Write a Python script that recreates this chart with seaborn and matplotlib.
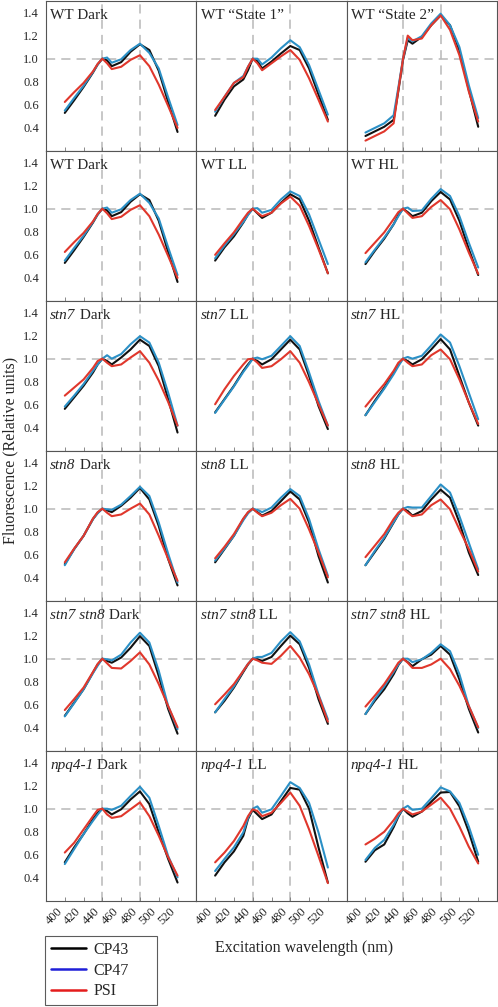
import matplotlib
matplotlib.use("Agg")
import matplotlib.pyplot as plt
from matplotlib.lines import Line2D
import pandas as pd
import seaborn as sns

# excitation wavelengths (nm) sampled for every spectrum
wavelength = [400, 410, 420, 430, 435, 440, 445, 450, 460, 470, 480, 490, 500, 510, 520]

# panels in row-major order (6 rows x 3 columns)
genotypes = ["WT", "WT", "WT",
             "WT", "WT", "WT",
             "stn7", "stn7", "stn7",
             "stn8", "stn8", "stn8",
             "stn7 stn8", "stn7 stn8", "stn7 stn8",
             "npq4-1", "npq4-1", "npq4-1"]
conditions = ["Dark", "\u201cState 1\u201d", "\u201cState 2\u201d",
              "Dark", "LL", "HL",
              "Dark", "LL", "HL",
              "Dark", "LL", "HL",
              "Dark", "LL", "HL",
              "Dark", "LL", "HL"]

cp43 = [
    [0.53, 0.64, 0.755, 0.88, 0.95, 1.0, 0.985, 0.935, 0.97, 1.06, 1.125, 1.075, 0.895, 0.625, 0.365],
    [0.505, 0.645, 0.76, 0.82, 0.90, 1.0, 0.98, 0.915, 0.975, 1.045, 1.11, 1.075, 0.915, 0.69, 0.47],
    [0.33, 0.37, 0.41, 0.47, 0.72, 0.99, 1.16, 1.13, 1.19, 1.29, 1.375, 1.29, 1.07, 0.73, 0.41],
    [0.53, 0.64, 0.755, 0.88, 0.95, 1.0, 0.985, 0.935, 0.97, 1.06, 1.125, 1.075, 0.895, 0.625, 0.365],
    [0.55, 0.665, 0.76, 0.88, 0.95, 1.0, 0.96, 0.92, 0.965, 1.05, 1.125, 1.08, 0.895, 0.665, 0.44],
    [0.52, 0.635, 0.74, 0.865, 0.945, 1.0, 0.97, 0.935, 0.965, 1.065, 1.145, 1.08, 0.895, 0.65, 0.425],
    [0.565, 0.665, 0.765, 0.88, 0.95, 1.0, 0.98, 0.95, 1.01, 1.08, 1.165, 1.11, 0.935, 0.65, 0.36],
    [0.535, 0.65, 0.765, 0.895, 0.95, 1.0, 0.98, 0.95, 0.995, 1.08, 1.165, 1.08, 0.85, 0.59, 0.39],
    [0.51, 0.635, 0.75, 0.88, 0.95, 1.0, 0.98, 0.95, 0.995, 1.08, 1.17, 1.08, 0.85, 0.62, 0.42],
    [0.52, 0.65, 0.765, 0.91, 0.965, 1.0, 0.985, 0.97, 1.025, 1.095, 1.18, 1.08, 0.85, 0.565, 0.335],
    [0.535, 0.65, 0.765, 0.91, 0.965, 1.0, 0.97, 0.94, 0.98, 1.065, 1.15, 1.08, 0.88, 0.59, 0.36],
    [0.51, 0.625, 0.74, 0.88, 0.95, 1.0, 0.98, 0.94, 0.98, 1.08, 1.165, 1.095, 0.88, 0.62, 0.425],
    [0.505, 0.62, 0.735, 0.88, 0.95, 1.0, 0.98, 0.965, 1.01, 1.095, 1.195, 1.11, 0.85, 0.565, 0.35],
    [0.535, 0.635, 0.75, 0.885, 0.95, 1.0, 0.995, 0.98, 1.015, 1.11, 1.20, 1.125, 0.92, 0.65, 0.435],
    [0.52, 0.635, 0.735, 0.865, 0.945, 1.0, 0.97, 0.935, 0.995, 1.035, 1.11, 1.035, 0.82, 0.565, 0.36],
    [0.535, 0.665, 0.78, 0.91, 0.965, 1.0, 0.98, 0.95, 0.995, 1.08, 1.15, 1.04, 0.795, 0.565, 0.36],
    [0.42, 0.535, 0.63, 0.765, 0.91, 0.99, 0.95, 0.91, 0.95, 1.065, 1.18, 1.165, 1.0, 0.665, 0.36],
    [0.54, 0.64, 0.69, 0.84, 0.93, 1.0, 0.96, 0.93, 0.975, 1.06, 1.14, 1.145, 1.02, 0.80, 0.54],
]

cp47 = [
    [0.55, 0.66, 0.765, 0.885, 0.95, 1.0, 1.01, 0.965, 0.995, 1.075, 1.13, 1.05, 0.915, 0.665, 0.425],
    [0.54, 0.67, 0.79, 0.85, 0.93, 1.0, 1.0, 0.95, 1.01, 1.09, 1.16, 1.10, 0.945, 0.73, 0.515],
    [0.36, 0.40, 0.44, 0.51, 0.75, 1.0, 1.18, 1.15, 1.195, 1.305, 1.39, 1.29, 1.10, 0.77, 0.485],
    [0.55, 0.66, 0.765, 0.885, 0.95, 1.0, 1.01, 0.965, 0.995, 1.075, 1.13, 1.05, 0.915, 0.665, 0.425],
    [0.57, 0.68, 0.78, 0.885, 0.945, 1.0, 1.005, 0.965, 0.99, 1.08, 1.15, 1.11, 0.95, 0.735, 0.52],
    [0.535, 0.645, 0.75, 0.865, 0.935, 1.0, 1.01, 0.98, 0.985, 1.085, 1.17, 1.11, 0.935, 0.705, 0.49],
    [0.585, 0.68, 0.78, 0.895, 0.95, 1.0, 1.03, 1.0, 1.04, 1.125, 1.195, 1.14, 0.965, 0.705, 0.42],
    [0.53, 0.645, 0.76, 0.885, 0.94, 1.0, 1.01, 0.995, 1.025, 1.11, 1.195, 1.11, 0.88, 0.635, 0.42],
    [0.51, 0.625, 0.74, 0.865, 0.935, 1.0, 1.015, 1.0, 1.025, 1.115, 1.21, 1.14, 0.935, 0.705, 0.475],
    [0.51, 0.65, 0.765, 0.91, 0.96, 1.0, 0.995, 0.99, 1.035, 1.11, 1.19, 1.11, 0.88, 0.61, 0.36],
    [0.55, 0.655, 0.765, 0.90, 0.96, 1.0, 0.99, 0.97, 1.01, 1.095, 1.17, 1.11, 0.91, 0.65, 0.42],
    [0.51, 0.635, 0.75, 0.885, 0.95, 1.0, 1.015, 1.01, 1.01, 1.11, 1.21, 1.14, 0.935, 0.705, 0.475],
    [0.50, 0.615, 0.735, 0.875, 0.94, 1.0, 0.995, 0.985, 1.035, 1.14, 1.225, 1.14, 0.895, 0.59, 0.39],
    [0.535, 0.65, 0.76, 0.895, 0.955, 1.0, 1.015, 1.015, 1.05, 1.15, 1.23, 1.15, 0.95, 0.69, 0.475],
    [0.52, 0.65, 0.76, 0.885, 0.95, 1.0, 1.0, 0.97, 0.995, 1.05, 1.125, 1.065, 0.865, 0.59, 0.40],
    [0.52, 0.65, 0.78, 0.895, 0.95, 1.0, 1.0, 0.99, 1.025, 1.11, 1.19, 1.095, 0.85, 0.59, 0.405],
    [0.46, 0.565, 0.665, 0.795, 0.92, 1.0, 1.02, 0.965, 0.995, 1.11, 1.23, 1.18, 1.05, 0.795, 0.49],
    [0.555, 0.66, 0.73, 0.86, 0.94, 1.0, 1.025, 0.99, 1.0, 1.09, 1.185, 1.15, 1.05, 0.845, 0.60],
]

psi = [
    [0.625, 0.71, 0.79, 0.89, 0.955, 1.0, 0.96, 0.91, 0.93, 0.99, 1.03, 0.935, 0.775, 0.59, 0.40],
    [0.555, 0.67, 0.79, 0.84, 0.93, 1.0, 0.96, 0.90, 0.96, 1.02, 1.075, 0.99, 0.83, 0.645, 0.455],
    [0.29, 0.33, 0.37, 0.44, 0.73, 1.0, 1.20, 1.16, 1.175, 1.29, 1.375, 1.25, 1.03, 0.715, 0.455],
    [0.625, 0.71, 0.79, 0.89, 0.955, 1.0, 0.96, 0.91, 0.93, 0.99, 1.03, 0.935, 0.775, 0.59, 0.40],
    [0.60, 0.70, 0.795, 0.91, 0.965, 1.0, 0.965, 0.935, 0.965, 1.045, 1.105, 1.025, 0.85, 0.65, 0.44],
    [0.615, 0.705, 0.795, 0.91, 0.97, 1.0, 0.96, 0.92, 0.935, 1.015, 1.075, 0.995, 0.82, 0.62, 0.435],
    [0.68, 0.75, 0.82, 0.92, 0.98, 1.0, 0.965, 0.935, 0.95, 1.01, 1.065, 0.965, 0.81, 0.625, 0.42],
    [0.605, 0.735, 0.85, 0.95, 0.995, 1.0, 0.965, 0.92, 0.935, 0.995, 1.065, 0.965, 0.795, 0.605, 0.42],
    [0.585, 0.685, 0.78, 0.895, 0.965, 1.0, 0.965, 0.935, 0.95, 1.03, 1.08, 0.995, 0.82, 0.62, 0.435],
    [0.535, 0.655, 0.765, 0.915, 0.97, 1.0, 0.965, 0.935, 0.95, 1.0, 1.045, 0.95, 0.765, 0.565, 0.375],
    [0.57, 0.67, 0.78, 0.915, 0.97, 1.0, 0.965, 0.935, 0.965, 1.03, 1.085, 1.0, 0.82, 0.62, 0.405],
    [0.58, 0.68, 0.78, 0.91, 0.965, 1.0, 0.965, 0.935, 0.95, 1.03, 1.08, 0.995, 0.82, 0.65, 0.455],
    [0.555, 0.65, 0.75, 0.885, 0.955, 1.0, 0.96, 0.92, 0.915, 0.98, 1.055, 0.95, 0.78, 0.59, 0.405],
    [0.605, 0.69, 0.78, 0.895, 0.955, 1.0, 0.985, 0.965, 0.955, 1.025, 1.11, 1.01, 0.865, 0.68, 0.455],
    [0.585, 0.68, 0.78, 0.90, 0.965, 1.0, 0.965, 0.92, 0.92, 0.95, 1.0, 0.91, 0.765, 0.59, 0.405],
    [0.62, 0.705, 0.82, 0.935, 0.99, 1.0, 0.95, 0.92, 0.935, 0.995, 1.055, 0.935, 0.765, 0.58, 0.42],
    [0.535, 0.62, 0.72, 0.85, 0.935, 0.995, 0.98, 0.935, 0.965, 1.05, 1.14, 1.025, 0.82, 0.59, 0.355],
    [0.69, 0.74, 0.80, 0.90, 0.96, 1.0, 0.975, 0.95, 0.975, 1.035, 1.095, 1.0, 0.845, 0.67, 0.525],
]

complex_names = ["CP43", "CP47", "PSI"]
line_colors = {"CP43": "#111111", "CP47": "#2b90c6", "PSI": "#e0372c"}
legend_colors = ["#000000", "#1f1fd8", "#e41c1c"]

rows = []
for i in range(len(genotypes)):
    for name, series in zip(complex_names, (cp43, cp47, psi)):
        for wl, val in zip(wavelength, series[i]):
            rows.append({"panel": i, "complex": name, "wavelength": wl, "fluorescence": val})
df = pd.DataFrame(rows)

sns.set_theme(style="white")
plt.rcParams["font.family"] = ["Liberation Serif", "DejaVu Serif"]

W, H = 498, 1007
fig, axes = plt.subplots(6, 3, figsize=(W / 100, H / 100), dpi=100, sharex=True, sharey=True)
fig.subplots_adjust(left=46 / W, right=497 / W, top=1 - 1 / H, bottom=1 - 901 / H,
                    wspace=0, hspace=0)

grid_kw = dict(color="#b8b8b8", lw=1.1, ls=(0, (6, 4)), zorder=0)

for i, ax in enumerate(axes.flat):
    sub = df[df["panel"] == i]
    ax.axvline(440, **grid_kw)
    ax.axvline(480, **grid_kw)
    ax.axhline(1.0, **grid_kw)
    sns.lineplot(data=sub, x="wavelength", y="fluorescence", hue="complex",
                 hue_order=complex_names, palette=line_colors, linewidth=1.5,
                 ax=ax, legend=False)
    ax.set_xlim(380, 540)
    ax.set_ylim(0.2, 1.5)
    ax.set_xticks(range(400, 521, 20))
    ax.set_yticks([0.4, 0.6, 0.8, 1.0, 1.2, 1.4])
    ax.yaxis.set_major_formatter("{x:.1f}")
    ax.set_xlabel("")
    ax.set_ylabel("")
    ax.tick_params(axis="x", bottom=True, direction="in", length=3, width=0.6,
                   color="#777777", labelsize=9, pad=3)
    ax.tick_params(axis="y", left=False, length=0, labelsize=9, pad=5)
    for sp in ax.spines.values():
        sp.set_color("#555555")
        sp.set_linewidth(0.8)

    geno, cond = genotypes[i], conditions[i]
    if geno == "WT":
        ax.text(0.028, 0.945, f"WT {cond}", transform=ax.transAxes,
                fontsize=11, va="top", ha="left")
    else:
        t = ax.text(0.028, 0.945, geno, transform=ax.transAxes, fontsize=11,
                    va="top", ha="left", style="italic")
        ax.annotate(" " + cond, xy=(1, 0), xycoords=t, fontsize=11,
                    va="bottom", ha="left")

for ax in axes[-1]:
    plt.setp(ax.get_xticklabels(), rotation=45, ha="right")

fig.text(304 / W, 1 - 948 / H, "Excitation wavelength (nm)", fontsize=11.5,
         ha="center", va="center")
fig.text(10 / W, 1 - 450 / H, "Fluorescence (Relative units)", fontsize=11.5,
         ha="center", va="center", rotation=90)

handles = [Line2D([], [], color=c, lw=1.8) for c in legend_colors]
leg = fig.legend(handles, complex_names, loc="lower left",
                 bbox_to_anchor=(45 / W, 2 / H, 112 / W, 70 / H), mode="expand",
                 frameon=True, fancybox=False, fontsize=11.5, handlelength=2.2,
                 handletextpad=0.5, labelspacing=0.3, borderpad=0.35, borderaxespad=0)
leg.get_frame().set_edgecolor("#333333")
leg.get_frame().set_linewidth(0.8)

fig.savefig("out.png", dpi=100)
